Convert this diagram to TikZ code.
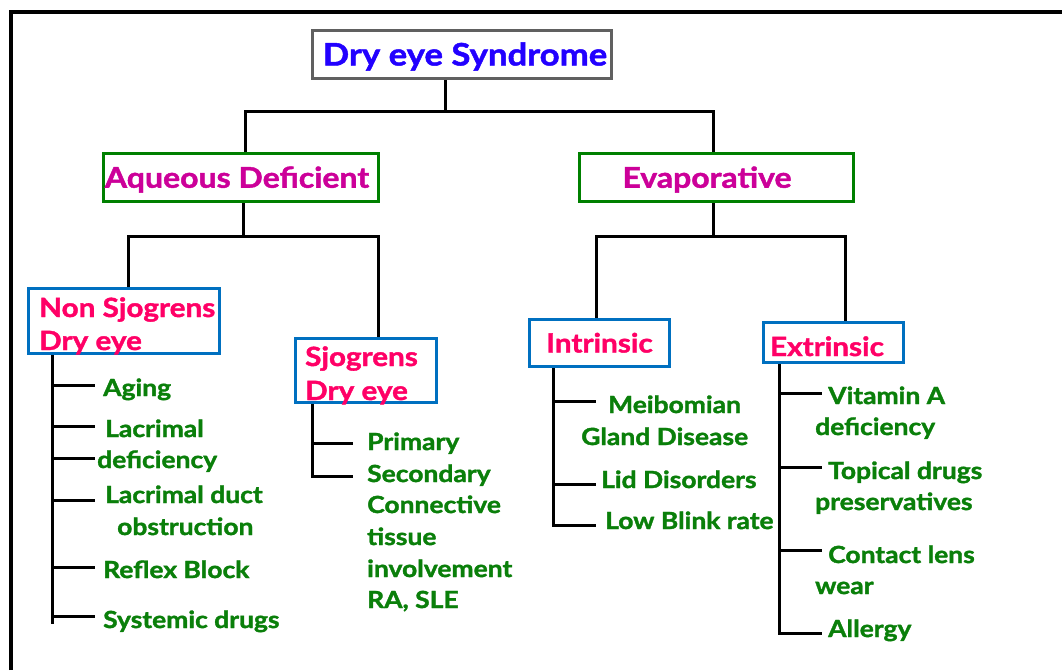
\documentclass[tikz,border=0pt]{standalone}
\usepackage{fontspec}
\setmainfont{Lato}[FakeStretch=1.12, BoldFeatures={FakeBold=1.5}]
\usetikzlibrary{calc}
\definecolor{ttlblue}{HTML}{2200FF}
\definecolor{ttlgray}{HTML}{606060}
\definecolor{boxgreen}{HTML}{008000}
\definecolor{aqmag}{HTML}{CC0099}
\definecolor{boxblue}{HTML}{0070C0}
\definecolor{pinktxt}{HTML}{FF0066}
\definecolor{itemgreen}{HTML}{0A7F0A}
\begin{document}
\begin{tikzpicture}[x=1pt,y=-1pt,
  conn/.style={draw=black, line width=3pt, line join=miter},
  framel/.style={draw=black, line width=4pt},
  box/.style={draw, line width=3pt, fill=white, inner sep=0pt, text depth=0pt},
  ttlbox/.style={box, draw=ttlgray, text=ttlblue, font=\fontsize{31}{36}\selectfont\bfseries, text height=22pt},
  catbox/.style={box, draw=boxgreen, text=aqmag, font=\fontsize{28.6}{32}\selectfont\bfseries, text height=20.5pt},
  subbox/.style={box, draw=boxblue, text=pinktxt, font=\fontsize{26.5}{30}\selectfont\bfseries, text height=19pt},
  pinkline/.style={text=pinktxt, font=\fontsize{26.5}{30}\selectfont\bfseries, inner sep=0pt, anchor=base west},
  item/.style={text=itemgreen, font=\fontsize{23.6}{28}\selectfont\bfseries, inner sep=0pt, anchor=base west}]
\useasboundingbox (0,0) rectangle (1062,670);
\fill[white] (0,0) rectangle (1062,670);
\draw[framel] (10.5,670) -- (10.5,11.5) -- (1062,11.5);

% top levels
\node[ttlbox, minimum width=299, minimum height=48] (title) at (462,54.5) {\hspace*{6pt}Dry eye Syndrome};
\node[catbox, minimum width=275, minimum height=48] (aq) at (241,177.5) {Aqueous Deficient\hspace*{8pt}};
\node[catbox, minimum width=274, minimum height=48] (evap) at (716.5,177.5) {Evaporative\hspace*{19pt}};

\coordinate (j0) at (445,111);
\draw[conn] (title.south -| j0) -- (j0);
\draw[conn] ($(aq.north)+(4,0)$) |- (j0) -| ($(evap.north)+(-3.5,0)$);

% second level boxes
\node[box, draw=boxblue, minimum width=191, minimum height=65] (nonsj) at (124,321) {};
\node[box, draw=boxblue, minimum width=141, minimum height=64] (sj) at (366,370.5) {};
\node[subbox, minimum width=140, minimum height=47] (intr) at (599.5,343) {Intrinsic};
\node[subbox, minimum width=140, minimum height=40, text height=27pt] (extr) at (833.5,342.5) {Extrinsic\hspace*{13pt}};

\node[pinkline] (nsj1) at (39,317) {Non Sjogrens};
\node[pinkline] (nsj2) at (39,350) {Dry eye};
\node[pinkline] (sj1) at (305,366) {Sjogrens};
\node[pinkline] (sj2) at (305,400) {Dry eye};

\coordinate (j1) at (243,236);
\draw[conn] (aq.south -| j1) -- (j1);
\draw[conn] ($(nonsj.north)+(4,0)$) |- (j1) -| ($(sj.north)+(12,0)$);
\coordinate (j2) at (713,236);
\draw[conn] (evap.south -| j2) -- (j2);
\draw[conn] ($(intr.north)+(-3.5,0)$) |- (j2) -| ($(extr.north)+(12,0)$);

% Non Sjogrens list
\node[item] (aging) at (103,396) {Aging};
\node[item] (lacr1) at (105,437) {Lacrimal};
\node[item] (lacr2) at (97,468) {deficiency};
\node[item] (lacd1) at (105,503) {Lacrimal duct};
\node[item] (lacd2) at (117,535) {obstruction};
\node[item] (reflex) at (103,578) {Reflex Block};
\node[item] (sysd) at (103,628) {Systemic drugs};
\coordinate (nsS) at (52,624);
\coordinate (bA) at (95,385);
\coordinate (bB) at (95,426);
\coordinate (bC) at (95,458);
\coordinate (bD) at (95,500);
\coordinate (bE) at (95,567);
\coordinate (bF) at (95,616);
\draw[conn] (nonsj.south -| nsS) -- (nsS);
\foreach \b in {bA,bB,bC,bD,bE,bF} \draw[conn] (nsS |- \b) -- (\b);

% Sjogrens list
\node[item] (prim) at (367,450) {Primary};
\node[item] (sec) at (367,482) {Secondary};
\node[item] (ct1) at (367,513) {Connective};
\node[item] (ct2) at (367,545) {tissue};
\node[item] (ct3) at (367,577) {involvement};
\node[item] (ct4) at (367,608) {RA, SLE};
\coordinate (sjS) at (312,476);
\coordinate (bP) at (353,443);
\coordinate (bS) at (353,476);
\draw[conn] (sj.south -| sjS) -- (sjS) -- (bS);
\draw[conn] (sjS |- bP) -- (bP);

% Intrinsic list
\node[item] (meib1) at (608,413) {Meibomian};
\node[item] (meib2) at (581,445) {Gland Disease};
\node[item] (lid) at (601,488) {Lid Disorders};
\node[item] (blink) at (605,529) {Low Blink rate};
\coordinate (inS) at (553,525);
\coordinate (bM) at (596,401);
\coordinate (bL) at (596,484);
\coordinate (bK) at (596,525);
\draw[conn] (intr.south -| inS) -- (inS) -- (bK);
\draw[conn] (inS |- bM) -- (bM);
\draw[conn] (inS |- bL) -- (bL);

% Extrinsic list
\node[item] (vit1) at (828,404) {Vitamin A};
\node[item] (vit2) at (815,435) {deficiency};
\node[item] (top1) at (828,479) {Topical drugs};
\node[item] (top2) at (815,510) {preservatives};
\node[item] (cl1) at (828,563) {Contact lens};
\node[item] (cl2) at (815,594) {wear};
\node[item] (allergy) at (828,637) {Allergy};
\coordinate (exS) at (779,633);
\coordinate (bV) at (822,393);
\coordinate (bT) at (822,467);
\coordinate (bC2) at (822,550);
\coordinate (bY) at (822,633);
\draw[conn] (extr.south -| exS) -- (exS) -- (bY);
\foreach \b in {bV,bT,bC2} \draw[conn] (exS |- \b) -- (\b);
\end{tikzpicture}
\end{document}
